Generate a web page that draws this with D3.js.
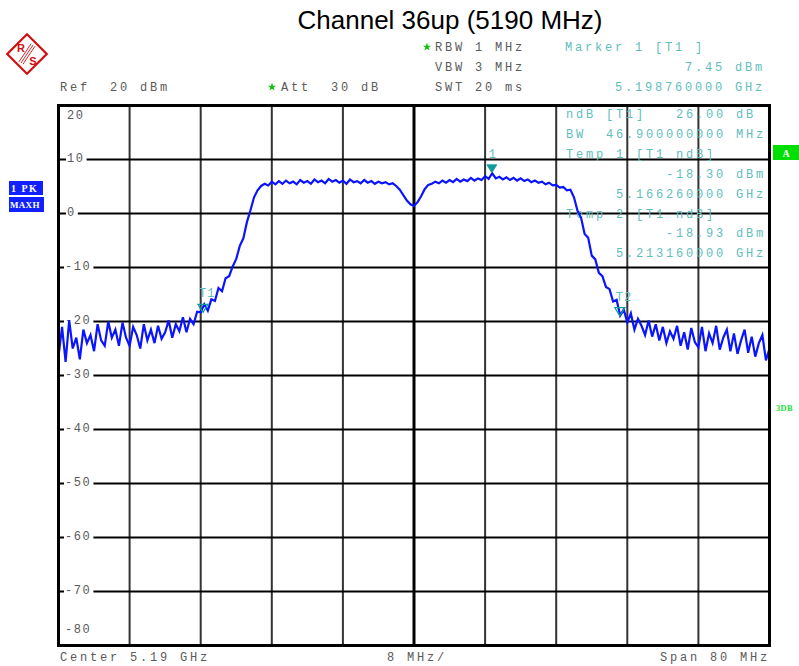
<!DOCTYPE html>
<html>
<head>
<meta charset="utf-8">
<script src="https://cdn.jsdelivr.net/npm/d3@7"></script>
<style>
  body { margin: 0; background: #fff; }
  svg { display: block; }
</style>
</head>
<body>
<svg id="chart" width="799" height="666"></svg>
<script>
// sweep settings (MHz / dBm)
const startFreq = 5150;
const stopFreq = 5230;
const refLevel = 20;
const bottomLevel = -80;
const freqDivs = [5158, 5166, 5174, 5182, 5190, 5198, 5206, 5214, 5222];
const levelTicks = [20, 10, 0, -10, -20, -30, -40, -50, -60, -70, -80];

// max-hold trace, one value every 0.4 MHz from 5150 to 5230 MHz
const traceDbm = [
  -26.5, -21, -27.5, -19.8, -25, -23, -27, -21.5, -24, -22.5,
  -25.5, -20.5, -23.5, -24.5, -20, -23, -21.5, -24.5, -20.2, -23,
  -24.5, -21, -22.5, -25, -20.5, -23.5, -21.5, -24, -20.8, -23.2,
  -22, -19.8, -23, -20.5, -21.8, -19.2, -22, -19.5, -20.5, -18.2,
  -18.3, -16.8, -18, -15.9, -16.2, -13.8, -14.4, -12.0, -11.6, -9.8,
  -8.4, -6.0, -4.6, -1.6, 0.6, 3.0, 4.3, 5.1, 5.5, 5.2,
  5.9, 5.4, 6.0, 5.5, 6.1, 5.6, 5.9, 5.4, 6.2, 5.7,
  6.0, 5.5, 6.3, 5.8, 6.1, 5.6, 6.4, 5.9, 6.2, 5.7,
  6.1, 5.5, 6.3, 5.8, 6.0, 5.6, 6.2, 5.7, 6.0, 5.5,
  5.9, 5.6, 5.8, 5.4, 5.6, 5.1, 4.4, 3.4, 2.4, 1.7,
  1.4, 2.1, 3.2, 4.5, 5.3, 5.5, 5.9, 5.6, 6.1, 5.7,
  6.2, 5.8, 6.4, 5.9, 6.3, 6.0, 6.6, 6.1, 6.5, 6.2,
  6.9, 6.4, 7.45, 6.5, 6.8, 6.3, 6.7, 6.2, 6.6, 6.1,
  6.5, 6.0, 6.3, 5.8, 6.1, 5.7, 5.9, 5.4, 5.7, 5.2,
  5.3, 4.8, 4.9, 4.3, 4.4, 3.0, 0.5, -0.8, -3.8, -4.5,
  -7.8, -8.5, -11.0, -11.6, -13.6, -14.0, -16.3, -16.0, -18.9, -17.8,
  -20.2, -18.5, -21.5, -19.5, -20.8, -22.5, -19.8, -22.8, -20.5, -23.5,
  -21.0, -24.0, -21.8, -23.2, -20.8, -24.5, -22.0, -25.2, -21.2, -23.8,
  -24.8, -21.0, -25.5, -22.2, -24.0, -20.8, -25.2, -23.0, -21.5, -25.5,
  -22.2, -26.0, -23.5, -21.5, -25.8, -22.8, -26.5, -24.0, -22.5, -27.2,
  -25.0
];

const markerNames = ['1', 'T1', 'T2'];
const markerFreqs = [5198.76, 5166.26, 5213.16];
const markerLevels = [7.45, -18.30, -18.93];

const headerLines = ['Ref  20 dBm', 'Att  30 dB', 'RBW 1 MHz', 'VBW 3 MHz', 'SWT 20 ms'];
const markerBox = [
  ['Marker 1 [T1 ]', 'left'], ['7.45 dBm', 'right'], ['5.198760000 GHz', 'right']
];
const ndbBox = [
  ['ndB [T1]   26.00 dB', 'left'], ['BW  46.900000000 MHz', 'left'],
  ['Temp 1 [T1 ndB]', 'left'], ['-18.30 dBm', 'right'], ['5.166260000 GHz', 'right'],
  ['Temp 2 [T1 ndB]', 'left'], ['-18.93 dBm', 'right'], ['5.213160000 GHz', 'right']
];

const svg = d3.select('#chart');
const L = 58.5, R = 769.5, T = 105.5, B = 645.5;
const x = d3.scaleLinear().domain([startFreq, stopFreq]).range([L, R]);
const y = d3.scaleLinear().domain([bottomLevel, refLevel]).range([B, T]);

const MONO = '"Liberation Mono", "DejaVu Sans Mono", monospace';
const GRAY = '#5a5a5a';
const TEAL = '#5fbdbd';

function mono(g, px, py, str, color, spacing) {
  return g.append('text')
    .attr('x', px).attr('y', py)
    .attr('font-family', MONO).attr('font-size', 12)
    .attr('letter-spacing', spacing == null ? 2.8 : spacing)
    .style('white-space', 'pre')
    .attr('fill', color)
    .text(str);
}

// title
svg.append('text')
  .attr('x', 450).attr('y', 29)
  .attr('text-anchor', 'middle')
  .attr('font-family', '"Liberation Sans", Arial, sans-serif')
  .attr('font-size', 26)
  .attr('fill', '#000')
  .text('Channel 36up (5190 MHz)');

// R&S logo
const logo = svg.append('g').attr('transform', 'translate(27,54)');
logo.append('rect').attr('x', -14).attr('y', -14).attr('width', 28).attr('height', 28)
  .attr('transform', 'rotate(45)')
  .attr('fill', '#fff').attr('stroke', '#d01010').attr('stroke-width', 2.2);
[-2, 0, 2].forEach(o => {
  logo.append('line')
    .attr('x1', 6 + o).attr('y1', -9 + o * 0.6).attr('x2', -6 + o).attr('y2', 9 + o * 0.6)
    .attr('stroke', '#d01010').attr('stroke-width', 0.9);
});
logo.append('text').attr('x', -6).attr('y', -2).attr('text-anchor', 'middle')
  .attr('font-family', '"Liberation Sans", Arial, sans-serif').attr('font-weight', 'bold')
  .attr('font-size', 11).attr('fill', '#d01010').text('R');
logo.append('text').attr('x', 6).attr('y', 11).attr('text-anchor', 'middle')
  .attr('font-family', '"Liberation Sans", Arial, sans-serif').attr('font-weight', 'bold')
  .attr('font-size', 11).attr('fill', '#d01010').text('S');

// header settings
const head = svg.append('g');
mono(head, 60, 91, headerLines[0], GRAY);
mono(head, 281, 91, headerLines[1], GRAY);
mono(head, 435, 51, headerLines[2], GRAY);
mono(head, 435, 71, headerLines[3], GRAY);
mono(head, 435, 91, headerLines[4], GRAY);
[[272, 87], [427, 47]].forEach(p => {
  head.append('path')
    .attr('d', d3.symbol(d3.symbolStar, 22)())
    .attr('transform', `translate(${p[0]},${p[1]})`)
    .attr('fill', '#10c010');
});

function boxLines(g, col, top, lines) {
  lines.forEach((ln, i) => {
    const str = ln[0];
    const px = ln[1] === 'right' ? col + (20 - str.length) * 10 : col;
    mono(g, px, top + i * 19.9, str, TEAL);
  });
}
boxLines(head, 565, 51, markerBox);

// grid
const grid = svg.append('g');
freqDivs.forEach(f => {
  grid.append('line')
    .attr('x1', x(f)).attr('x2', x(f)).attr('y1', T).attr('y2', B)
    .attr('stroke', f === 5190 ? '#000' : '#333')
    .attr('stroke-width', f === 5190 ? 3 : 2);
});
levelTicks.filter(v => v < refLevel && v > bottomLevel).forEach(v => {
  grid.append('line')
    .attr('x1', L).attr('x2', R).attr('y1', y(v)).attr('y2', y(v))
    .attr('stroke', '#000').attr('stroke-width', 2);
});

// level labels, breaking the grid line
levelTicks.forEach(v => {
  let ty = y(v) + 2;
  if (v === refLevel) ty = y(v) + 13;
  if (v === bottomLevel) ty = y(v) - 13;
  const tx = v < 0 ? 65 : 67;
  const t = mono(grid, tx, ty, String(v), GRAY, 1.6);
  const bb = t.node().getBBox();
  if (v < refLevel && v > bottomLevel) {
    grid.insert('rect', function () { return t.node(); })
      .attr('x', bb.x - 1).attr('y', y(v) - 2).attr('width', bb.width + 3).attr('height', 4)
      .attr('fill', '#fff');
  }
});

// ndB readout inside the diagram
boxLines(svg.append('g'), 566, 118, ndbBox);

// trace
svg.append('clipPath').attr('id', 'plotClip')
  .append('rect').attr('x', L).attr('y', T).attr('width', R - L).attr('height', B - T);
const step = (stopFreq - startFreq) / (traceDbm.length - 1);
const line = d3.line()
  .x((d, i) => x(startFreq + i * step))
  .y(d => y(d));
svg.append('path')
  .datum(traceDbm)
  .attr('clip-path', 'url(#plotClip)')
  .attr('d', line)
  .attr('fill', 'none')
  .attr('stroke', '#0a14ff')
  .attr('stroke-width', 2.2)
  .attr('stroke-linejoin', 'miter');

// markers
const mk = svg.append('g');
markerNames.forEach((name, i) => {
  const mx = x(markerFreqs[i]);
  const my = y(markerLevels[i]);
  const filled = name === '1';
  const tip = filled ? my - 0.5 : my;
  mk.append('path')
    .attr('d', `M${mx - 5},${tip - 8} L${mx + 5},${tip - 8} L${mx},${tip} Z`)
    .attr('fill', filled ? '#109c9c' : 'none')
    .attr('stroke', '#109c9c').attr('stroke-width', filled ? 0.8 : 1.3);
  mono(mk, filled ? mx - 3 : mx - 4, tip - 15, name, TEAL, 1);
});

// frame
svg.append('rect')
  .attr('x', L).attr('y', T).attr('width', R - L).attr('height', B - T)
  .attr('fill', 'none').attr('stroke', '#000').attr('stroke-width', 3);

// footer
mono(svg, 60, 661, 'Center 5.19 GHz', GRAY);
mono(svg, 387, 661, '8 MHz/', GRAY);
mono(svg, 660, 661, 'Span 80 MHz', GRAY);

// side annotations
const side = svg.append('g').attr('font-family', '"Liberation Serif", "DejaVu Serif", serif').attr('font-weight', 'bold');
side.append('rect').attr('x', 9).attr('y', 181).attr('width', 34).attr('height', 14).attr('fill', '#1020ff');
side.append('text').attr('x', 11).attr('y', 192).attr('font-size', 10).attr('fill', '#fff')
  .attr('letter-spacing', 1.5).style('white-space', 'pre').text('1 PK');
side.append('rect').attr('x', 9).attr('y', 197).attr('width', 35).attr('height', 15).attr('fill', '#1020ff');
side.append('text').attr('x', 10).attr('y', 208).attr('font-size', 9).attr('fill', '#fff')
  .attr('letter-spacing', 0.3).text('MAXH');
side.append('rect').attr('x', 773).attr('y', 145).attr('width', 26).attr('height', 15).attr('fill', '#00e000');
side.append('text').attr('x', 786).attr('y', 157).attr('text-anchor', 'middle').attr('font-size', 10)
  .attr('fill', '#fff').text('A');
side.append('text').attr('x', 776).attr('y', 411).attr('font-size', 8.5)
  .attr('fill', '#20e040').attr('letter-spacing', 0.3).text('3DB');
</script>
</body>
</html>
